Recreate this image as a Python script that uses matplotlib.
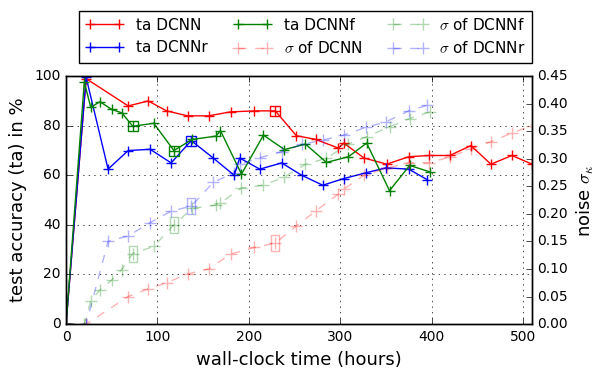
import numpy as np
import matplotlib
matplotlib.use("Agg")
import matplotlib.pyplot as plt

plt.style.use("classic")

# test accuracy (%) and noise sigma per network, vs wall-clock time (hours)
t_dcnn = [0, 22, 68, 90, 110, 133, 156, 180, 206, 229, 252, 273, 298, 304, 326,
          351, 375, 397, 420, 443, 465, 488, 510]
ta_dcnn = [0, 99, 88, 90, 86, 84, 84, 85.6, 86, 86, 76, 74.5, 71, 73, 67,
           64.5, 67.5, 68, 68, 72, 64.5, 68, 64.5]
sig_dcnn = [0, 0, 0.05, 0.064, 0.075, 0.091, 0.1, 0.127, 0.139, 0.147, 0.178,
            0.205, 0.236, 0.245, 0.27, 0.283, 0.293, 0.293, 0.303, 0.318,
            0.331, 0.347, 0.36]

t_dcnnr = [0, 22, 46, 68, 92, 115, 137, 161, 184, 190, 212, 236, 258, 281, 304,
           328, 350, 375, 395]
ta_dcnnr = [0, 99.5, 62.5, 70, 70.5, 65, 74, 67, 60, 67, 62.5, 65, 60, 56,
            58.7, 61, 63, 62.5, 58.3]
sig_dcnnr = [0, 0, 0.15, 0.16, 0.184, 0.205, 0.214, 0.257, 0.275, 0.29, 0.302,
             0.313, 0.326, 0.334, 0.343, 0.357, 0.367, 0.387, 0.397]

t_dcnnf = [0, 20, 27, 37, 50, 61, 73, 96, 118, 138, 164, 169, 192, 216, 239,
           262, 285, 309, 329, 354, 376, 398]
ta_dcnnf = [0, 97.7, 87.4, 89.7, 86.6, 85.2, 79.8, 81, 70, 74.5, 75.8, 78,
            60.5, 76.2, 70.4, 72.6, 65.2, 67.5, 73, 53.8, 64, 61.4]
sig_dcnnf = [0, 0, 0.042, 0.062, 0.08, 0.099, 0.128, 0.141, 0.18, 0.21, 0.216,
             0.22, 0.247, 0.252, 0.267, 0.29, 0.301, 0.327, 0.34, 0.358, 0.373,
             0.385]

# points highlighted with a box
hl_dcnn = [9]
hl_dcnnr = [6]
hl_dcnnf = [6, 8]

fig = plt.figure(figsize=(6.06, 3.79), dpi=100)
ax1 = fig.add_axes([0.109, 0.145, 0.769, 0.654])
ax2 = ax1.twinx()

tall_box = [(-0.5, -1), (0.5, -1), (0.5, 1), (-0.5, 1), (-0.5, -1)]

series = [
    (t_dcnn, ta_dcnn, sig_dcnn, hl_dcnn, "r", "DCNN"),
    (t_dcnnr, ta_dcnnr, sig_dcnnr, hl_dcnnr, "b", "DCNNr"),
    (t_dcnnf, ta_dcnnf, sig_dcnnf, hl_dcnnf, "g", "DCNNf"),
]
h_ta = {}
h_sig = {}
for t, ta, sig, hl, c, name in series:
    h_ta[name], = ax1.plot(t, ta, "-", color=c, marker="+", ms=7, mew=1,
                           lw=1, label="ta " + name)
    ax1.plot(t, ta, ls="none", marker="s", mfc="none", mec=c, ms=6.5, mew=1,
             markevery=hl)
    h_sig[name], = ax2.plot(t, sig, "--", color=c, marker="+", ms=8, mew=1,
                            lw=1, alpha=0.3, label=r"$\sigma$ of " + name)
    ax2.plot(t, sig, ls="none", marker=tall_box, mfc="none", mec=c, ms=11.5,
             mew=1, alpha=0.3, markevery=hl)

ax1.set_xlim(0, 510)
ax1.set_ylim(0, 100)
ax2.set_ylim(0, 0.45)
ax1.set_xticks([0, 100, 200, 300, 400, 500])
ax1.set_yticks([0, 20, 40, 60, 80, 100])
ax2.set_yticks(np.arange(0, 0.46, 0.05))
ax1.grid(True)
ax1.tick_params(labelsize=10)
ax2.tick_params(labelsize=10)
ax1.set_xlabel("wall-clock time (hours)", fontsize=13)
ax1.set_ylabel("test accuracy (ta) in %", fontsize=13)
ax2.set_ylabel(r"noise $\sigma_\kappa$", fontsize=13)

handles = [h_ta["DCNN"], h_ta["DCNNr"], h_ta["DCNNf"],
           h_sig["DCNN"], h_sig["DCNNf"], h_sig["DCNNr"]]
ax1.legend(handles, [h.get_label() for h in handles], ncol=3, fontsize=11,
           loc="lower right", bbox_to_anchor=(1.0, 1.055), numpoints=2,
           borderaxespad=0, handlelength=2.5, columnspacing=1.7)

fig.savefig("out.png", dpi=100)
